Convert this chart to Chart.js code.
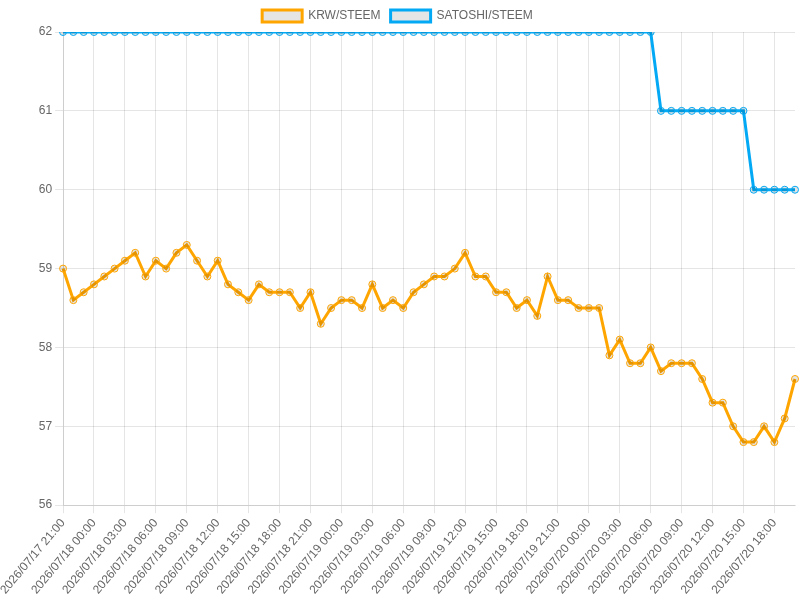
<!DOCTYPE html>
<html lang="ko">
<head>
  <meta charset="UTF-8">
  <title>STEEM 시세</title>
  <script src="https://cdn.jsdelivr.net/npm/chart.js"></script>
  <style>
    body {
      margin: 0;
      padding: 0;
      font-family: "Liberation Sans", Arial, sans-serif;
    }
    .chart-container {
      position: relative;
      width: 800px;
      height: 600px;
    }
  </style>
</head>
<body>
  <div class="chart-container">
    <canvas id="steemChart"></canvas>
  </div>

  <script>
    // hourly timestamps
    const labels = [
      '2026/07/17 21:00', '2026/07/17 22:00', '2026/07/17 23:00',
      '2026/07/18 00:00', '2026/07/18 01:00', '2026/07/18 02:00',
      '2026/07/18 03:00', '2026/07/18 04:00', '2026/07/18 05:00',
      '2026/07/18 06:00', '2026/07/18 07:00', '2026/07/18 08:00',
      '2026/07/18 09:00', '2026/07/18 10:00', '2026/07/18 11:00',
      '2026/07/18 12:00', '2026/07/18 13:00', '2026/07/18 14:00',
      '2026/07/18 15:00', '2026/07/18 16:00', '2026/07/18 17:00',
      '2026/07/18 18:00', '2026/07/18 19:00', '2026/07/18 20:00',
      '2026/07/18 21:00', '2026/07/18 22:00', '2026/07/18 23:00',
      '2026/07/19 00:00', '2026/07/19 01:00', '2026/07/19 02:00',
      '2026/07/19 03:00', '2026/07/19 04:00', '2026/07/19 05:00',
      '2026/07/19 06:00', '2026/07/19 07:00', '2026/07/19 08:00',
      '2026/07/19 09:00', '2026/07/19 10:00', '2026/07/19 11:00',
      '2026/07/19 12:00', '2026/07/19 13:00', '2026/07/19 14:00',
      '2026/07/19 15:00', '2026/07/19 16:00', '2026/07/19 17:00',
      '2026/07/19 18:00', '2026/07/19 19:00', '2026/07/19 20:00',
      '2026/07/19 21:00', '2026/07/19 22:00', '2026/07/19 23:00',
      '2026/07/20 00:00', '2026/07/20 01:00', '2026/07/20 02:00',
      '2026/07/20 03:00', '2026/07/20 04:00', '2026/07/20 05:00',
      '2026/07/20 06:00', '2026/07/20 07:00', '2026/07/20 08:00',
      '2026/07/20 09:00', '2026/07/20 10:00', '2026/07/20 11:00',
      '2026/07/20 12:00', '2026/07/20 13:00', '2026/07/20 14:00',
      '2026/07/20 15:00', '2026/07/20 16:00', '2026/07/20 17:00',
      '2026/07/20 18:00', '2026/07/20 19:00', '2026/07/20 20:00'
    ];

    const krwSteem = [
      59.0, 58.6, 58.7, 58.8, 58.9, 59.0, 59.1, 59.2, 58.9, 59.1,
      59.0, 59.2, 59.3, 59.1, 58.9, 59.1, 58.8, 58.7, 58.6, 58.8,
      58.7, 58.7, 58.7, 58.5, 58.7, 58.3, 58.5, 58.6, 58.6, 58.5,
      58.8, 58.5, 58.6, 58.5, 58.7, 58.8, 58.9, 58.9, 59.0, 59.2,
      58.9, 58.9, 58.7, 58.7, 58.5, 58.6, 58.4, 58.9, 58.6, 58.6,
      58.5, 58.5, 58.5, 57.9, 58.1, 57.8, 57.8, 58.0, 57.7, 57.8,
      57.8, 57.8, 57.6, 57.3, 57.3, 57.0, 56.8, 56.8, 57.0, 56.8,
      57.1, 57.6
    ];

    const satoshiSteem = [
      62, 62, 62, 62, 62, 62, 62, 62, 62, 62,
      62, 62, 62, 62, 62, 62, 62, 62, 62, 62,
      62, 62, 62, 62, 62, 62, 62, 62, 62, 62,
      62, 62, 62, 62, 62, 62, 62, 62, 62, 62,
      62, 62, 62, 62, 62, 62, 62, 62, 62, 62,
      62, 62, 62, 62, 62, 62, 62, 62, 61, 61,
      61, 61, 61, 61, 61, 61, 61, 60, 60, 60,
      60, 60
    ];

    // every 3rd hour gets a label (null also drops the grid line)
    const labelStep = 3;

    Chart.defaults.font.family = '"Liberation Sans", Arial, sans-serif';
    Chart.defaults.font.size = 12;
    Chart.defaults.color = '#666';

    const ctx = document.getElementById('steemChart').getContext('2d');

    new Chart(ctx, {
      type: 'line',
      data: {
        labels: labels,
        datasets: [
          {
            label: 'KRW/STEEM',
            data: krwSteem,
            borderColor: '#ffa500',
            backgroundColor: 'rgba(0,0,0,0.1)',
            borderWidth: 3,
            pointRadius: 3.5,
            pointBorderWidth: 1,
            fill: false,
            tension: 0
          },
          {
            label: 'SATOSHI/STEEM',
            data: satoshiSteem,
            borderColor: '#03a9f4',
            backgroundColor: 'rgba(0,0,0,0.1)',
            borderWidth: 3,
            pointRadius: 3.5,
            pointBorderWidth: 1,
            fill: false,
            tension: 0
          }
        ]
      },
      options: {
        responsive: true,
        maintainAspectRatio: false,
        animation: false,
        layout: {
          padding: { right: 5 }
        },
        plugins: {
          legend: {
            position: 'top',
            labels: {
              boxWidth: 40,
              font: { size: 12 }
            }
          }
        },
        scales: {
          x: {
            grid: { color: 'rgba(0,0,0,0.1)' },
            ticks: {
              autoSkip: false,
              maxRotation: 50,
              minRotation: 50,
              callback: function (value, index) {
                return index % labelStep === 0 ? this.getLabelForValue(value) : null;
              }
            }
          },
          y: {
            min: 56,
            max: 62,
            grid: { color: 'rgba(0,0,0,0.1)' },
            ticks: { stepSize: 1 }
          }
        }
      }
    });
  </script>
</body>
</html>
